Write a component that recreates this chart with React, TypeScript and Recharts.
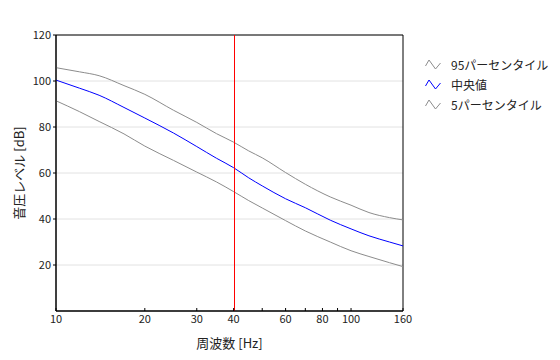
import {
  LineChart,
  Line,
  XAxis,
  YAxis,
  CartesianGrid,
  ReferenceLine,
  ReferenceArea,
  Legend,
} from 'recharts'

const freqs = [10, 12, 14, 17, 20, 25, 30, 35, 40, 45, 50, 60, 70, 85, 100, 115, 135, 150]
const p95 = [105.8, 104.0, 102.3, 98.0, 94.2, 87.3, 82.0, 77.1, 73.4, 69.6, 66.6, 60.2, 55.1, 49.6, 46.0, 42.8, 40.6, 39.6]
const median = [100.4, 96.9, 93.8, 88.5, 83.9, 77.4, 71.5, 66.4, 62.3, 57.9, 54.4, 48.8, 44.9, 39.5, 35.7, 32.7, 30.0, 28.3]
const p5 = [91.4, 86.7, 82.4, 77.0, 71.7, 65.5, 60.4, 56.1, 51.9, 48.0, 44.8, 39.3, 34.8, 30.0, 26.2, 23.7, 21.0, 19.3]

const xTicks = [10, 20, 30, 40, 50, 60, 70, 80, 90, 100, 150]
const xTickLabels: Record<number, string> = {
  10: '10', 20: '20', 30: '30', 40: '40', 60: '60', 80: '80', 100: '100', 150: '160',
}
const yTicks = [20, 40, 60, 80, 100, 120]
const markerFreq = 40

const series = [
  { key: 'p95', name: '95パーセンタイル', color: '#8c8c8c' },
  { key: 'median', name: '中央値', color: '#0000ff' },
  { key: 'p5', name: '5パーセンタイル', color: '#8c8c8c' },
]

const data = freqs.map((f, i) => ({ f, p95: p95[i], median: median[i], p5: p5[i] }))

const FONT = '"Noto Sans CJK JP", "Noto Sans", sans-serif'

function XTick(props: any) {
  const { x, y, payload } = props
  const label = xTickLabels[payload.value]
  return (
    <g>
      <line x1={x} x2={x} y1={y - 3} y2={y} stroke="#000" />
      {label && (
        <text x={x} y={y + 12} textAnchor="middle" fontSize={11} fill="#222" fontFamily={FONT}>
          {label}
        </text>
      )}
    </g>
  )
}

function MarkerLine(props: any) {
  const { x1, y1, x2, y2 } = props
  const x = Math.round(x1) + 0.5
  return <line x1={x} y1={y1} x2={Math.round(x2) + 0.5} y2={y2} stroke="#ff0000" strokeWidth={1} />
}

function LegendContent() {
  return (
    <div style={{ fontFamily: FONT, fontSize: 12, color: '#222' }}>
      {series.map((s) => (
        <div key={s.key} style={{ display: 'flex', alignItems: 'center', height: 20 }}>
          <svg width={16} height={12} style={{ marginRight: 10 }}>
            <polyline points="0.5,8 4,2 10.5,11 15.5,5" fill="none" stroke={s.color} strokeWidth={1} />
          </svg>
          <span>{s.name}</span>
        </div>
      ))}
    </div>
  )
}

export default function App() {
  return (
    <div style={{ position: 'absolute', left: 0, top: 0, width: 560, height: 360, background: '#fff' }}>
      <LineChart width={560} height={360} data={data} margin={{ top: 35, right: 157, bottom: 0, left: 0 }}>
        <CartesianGrid vertical={false} stroke="#e2e2e2" />
        <ReferenceArea x1={10} x2={150} y1={0} y2={120} fill="none" stroke="#000" strokeOpacity={1} fillOpacity={0} />
        <XAxis
          dataKey="f"
          type="number"
          scale="log"
          domain={[10, 150]}
          allowDataOverflow
          ticks={xTicks}
          interval={0}
          height={49}
          tickSize={0}
          tickMargin={0}
          tickLine={false}
          axisLine={{ stroke: '#000' }}
          tick={<XTick />}
          label={{ value: '周波数 [Hz]', position: 'insideBottom', offset: 12, fontSize: 13, fill: '#222', fontFamily: FONT }}
        />
        <YAxis
          type="number"
          domain={[0, 120]}
          ticks={yTicks}
          interval={0}
          width={56}
          tickSize={3}
          tickMargin={2}
          axisLine={{ stroke: '#000' }}
          tickLine={{ stroke: '#000' }}
          tick={{ fontSize: 11, fill: '#222', fontFamily: FONT }}
          label={{
            content: (p: any) => {
              const vb = p.viewBox
              const cx = vb.x + 18
              const cy = vb.y + vb.height / 2
              return (
                <text
                  x={cx}
                  y={cy}
                  transform={`rotate(-90 ${cx} ${cy})`}
                  textAnchor="middle"
                  dominantBaseline="central"
                  fontSize={13}
                  fill="#222"
                  fontFamily={FONT}
                >
                  音圧レベル [dB]
                </text>
              )
            },
          }}
        />
        {series.map((s) => (
          <Line
            key={s.key}
            dataKey={s.key}
            name={s.name}
            type="monotone"
            stroke={s.color}
            strokeWidth={1}
            dot={false}
            activeDot={false}
            isAnimationActive={false}
          />
        ))}
        <ReferenceLine x={markerFreq} stroke="#ff0000" shape={<MarkerLine />} />
        <Legend
          layout="horizontal"
          align="center"
          verticalAlign="middle"
          content={<LegendContent />}
          wrapperStyle={{ position: 'absolute', left: 425, top: 54, width: 135 }}
        />
      </LineChart>
    </div>
  )
}
